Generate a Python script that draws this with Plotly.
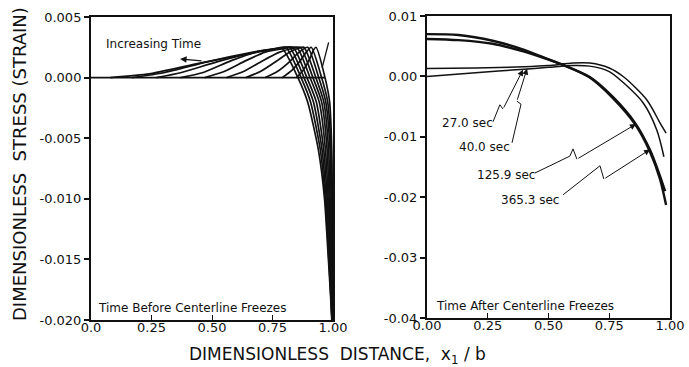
import plotly.graph_objects as go

# ---------------- Left panel: time before centerline freezes ----------------
# zero-stress baseline (still-liquid core)
base_x = [0.0, 0.967]
base_y = [0.0, 0.0]

# Stress profiles from the freezing front to the surface, earliest -> latest
before_x = [
    [0.85, 0.88, 0.905, 0.92, 0.93, 0.967, 0.986, 0.995, 0.997, 0.998, 0.999, 1.0],
    [0.79, 0.83, 0.865, 0.89, 0.91, 0.953, 0.978, 0.992, 0.995, 0.997, 0.998, 0.999],
    [0.72, 0.77, 0.82, 0.86, 0.895, 0.941, 0.970, 0.988, 0.992, 0.995, 0.997, 0.999],
    [0.64, 0.70, 0.77, 0.82, 0.855, 0.88, 0.929, 0.962, 0.982, 0.988, 0.993, 0.996, 0.998],
    [0.56, 0.63, 0.71, 0.78, 0.83, 0.865, 0.917, 0.953, 0.976, 0.984, 0.991, 0.995, 0.998],
    [0.47, 0.55, 0.64, 0.72, 0.80, 0.85, 0.905, 0.943, 0.969, 0.980, 0.988, 0.994, 0.997],
    [0.37, 0.46, 0.58, 0.70, 0.78, 0.835, 0.892, 0.931, 0.962, 0.976, 0.985, 0.993, 0.997],
    [0.27, 0.37, 0.52, 0.68, 0.77, 0.82, 0.88, 0.919, 0.955, 0.972, 0.983, 0.992, 0.996],
    [0.17, 0.30, 0.48, 0.67, 0.76, 0.805, 0.868, 0.907, 0.948, 0.968, 0.980, 0.991, 0.996],
    [0.08, 0.24, 0.45, 0.66, 0.75, 0.79, 0.855, 0.895, 0.940, 0.965, 0.978, 0.990, 0.995],
]
before_y = [
    [0, 0.0007, 0.0016, 0.0023, 0.0025, 0.0, -0.002, -0.006, -0.010, -0.014, -0.018, -0.020],
    [0, 0.0006, 0.0014, 0.0021, 0.0025, 0.0, -0.002, -0.006, -0.010, -0.014, -0.018, -0.020],
    [0, 0.0005, 0.0013, 0.0021, 0.0025, 0.0, -0.002, -0.006, -0.010, -0.014, -0.018, -0.020],
    [0, 0.0005, 0.0014, 0.0021, 0.0024, 0.0025, 0.0, -0.002, -0.006, -0.010, -0.014, -0.018, -0.020],
    [0, 0.0005, 0.0014, 0.0021, 0.0024, 0.0025, 0.0, -0.002, -0.006, -0.010, -0.014, -0.018, -0.020],
    [0, 0.0005, 0.0014, 0.0021, 0.0024, 0.0025, 0.0, -0.002, -0.006, -0.010, -0.014, -0.018, -0.020],
    [0, 0.0004, 0.0014, 0.0022, 0.0024, 0.0025, 0.0, -0.002, -0.006, -0.010, -0.014, -0.018, -0.020],
    [0, 0.0004, 0.0013, 0.0021, 0.0024, 0.0025, 0.0, -0.002, -0.006, -0.010, -0.014, -0.018, -0.020],
    [0, 0.0004, 0.0013, 0.0021, 0.0024, 0.0025, 0.0, -0.002, -0.006, -0.010, -0.014, -0.018, -0.020],
    [0, 0.0003, 0.0012, 0.0020, 0.0023, 0.0024, 0.0, -0.002, -0.006, -0.010, -0.014, -0.018, -0.020],
]
# short early-time segment near the surface
early_x = [0.955, 0.982]
early_y = [0.0008, 0.0029]

# ---------------- Right panel: time after centerline freezes ----------------
after_labels = ["27.0 sec", "40.0 sec", "125.9 sec", "365.3 sec"]
after_x = [
    [0, 0.2, 0.4, 0.5, 0.6, 0.67, 0.75, 0.81, 0.89, 0.946, 0.975],
    [0, 0.2, 0.4, 0.5, 0.6, 0.67, 0.75, 0.81, 0.905, 0.959, 0.984],
    [0, 0.13, 0.27, 0.40, 0.47, 0.56, 0.67, 0.765, 0.856, 0.918, 0.959, 0.98],
    [0, 0.13, 0.27, 0.40, 0.47, 0.56, 0.67, 0.765, 0.856, 0.918, 0.959, 0.984],
]
after_y = [
    [0.0000, 0.0006, 0.0012, 0.0015, 0.0018, 0.0017, 0.0008, -0.0011, -0.0044, -0.0089, -0.0133],
    [0.0013, 0.0014, 0.0016, 0.0018, 0.0022, 0.0022, 0.0014, -0.0001, -0.0039, -0.0077, -0.0094],
    [0.0062, 0.0060, 0.0054, 0.0041, 0.0032, 0.0019, -0.0001, -0.0034, -0.0077, -0.0122, -0.0165, -0.0190],
    [0.0070, 0.00685, 0.0059, 0.0044, 0.0033, 0.0019, -0.0002, -0.0036, -0.0079, -0.0125, -0.0170, -0.0213],
]
after_width = [1.5, 1.5, 2.4, 2.4]

# tick labels
left_xticks = ["0.0", "0.25", "0.50", "0.75", "1.00"]
right_xticks = ["0.00", "0.25", "0.50", "0.75", "1.00"]
xtick_vals = [0, 0.25, 0.5, 0.75, 1.0]
left_ytick_vals = [0.005, 0.0, -0.005, -0.010, -0.015, -0.020]
left_yticks = ["0.005", "0.000", "-0.005", "-0.010", "-0.015", "-0.020"]
right_ytick_vals = [0.01, 0.0, -0.01, -0.02, -0.03, -0.04]
right_yticks = ["0.01", "0.00", "-0.01", "-0.02", "-0.03", "-0.04"]

INK = "#111111"
FONT = "DejaVu Sans"

fig = go.Figure()

fig.add_trace(go.Scatter(x=base_x, y=base_y, mode="lines", xaxis="x", yaxis="y",
                         line=dict(color=INK, width=1.6), showlegend=False, hoverinfo="skip"))
for xs, ys in zip(before_x, before_y):
    fig.add_trace(go.Scatter(x=xs, y=ys, mode="lines", xaxis="x", yaxis="y",
                             line=dict(color=INK, width=1.7, shape="spline", smoothing=0.6),
                             showlegend=False, hoverinfo="skip"))
fig.add_trace(go.Scatter(x=early_x, y=early_y, mode="lines", xaxis="x", yaxis="y",
                         line=dict(color=INK, width=1.3), showlegend=False, hoverinfo="skip"))

for xs, ys, w, name in zip(after_x, after_y, after_width, after_labels):
    fig.add_trace(go.Scatter(x=xs, y=ys, mode="lines", xaxis="x2", yaxis="y2", name=name,
                             line=dict(color=INK, width=w, shape="spline", smoothing=0.8),
                             showlegend=False, hoverinfo="skip"))

axis_common = dict(showgrid=False, zeroline=False, showline=True, linecolor=INK,
                   linewidth=2, mirror=True, tickcolor=INK, automargin=False,
                   tickfont=dict(family=FONT, size=13, color=INK))

fig.update_layout(
    template="none",
    width=689, height=367,
    margin=dict(l=0, r=0, t=0, b=0, autoexpand=False),
    paper_bgcolor="white", plot_bgcolor="white",
    showlegend=False,
    xaxis=dict(domain=[0.1321, 0.4833], range=[0, 1], tickvals=xtick_vals,
               ticktext=left_xticks, ticks="inside", ticklen=5, tickwidth=1.2,
               ticklabelstandoff=-6, anchor="y", **axis_common),
    yaxis=dict(domain=[0.128, 0.9537], range=[-0.020, 0.005], tickvals=left_ytick_vals,
               ticktext=left_yticks, ticks="outside", ticklen=5, tickwidth=1.5,
               anchor="x", **axis_common),
    xaxis2=dict(domain=[0.6197, 0.9724], range=[0, 1], tickvals=xtick_vals,
                ticktext=right_xticks, ticks="inside", ticklen=5, tickwidth=1.2,
                ticklabelstandoff=-6, anchor="y2", **axis_common),
    yaxis2=dict(domain=[0.1335, 0.9564], range=[-0.04, 0.01], tickvals=right_ytick_vals,
                ticktext=right_yticks, ticks="outside", ticklen=5, tickwidth=1.5,
                anchor="x2", **axis_common),
)

# axis titles
fig.add_annotation(text="DIMENSIONLESS  STRESS (STRAIN)", xref="paper", yref="paper",
                   x=20 / 689, y=1 - 164 / 367, xanchor="center", yanchor="middle",
                   textangle=-90, showarrow=False,
                   font=dict(family=FONT, size=18, color=INK))
fig.add_annotation(text="DIMENSIONLESS  DISTANCE,  x<sub>1</sub> / b", xref="paper",
                   yref="paper", x=337 / 689, y=1 - 355 / 367, xanchor="center",
                   yanchor="middle", showarrow=False,
                   font=dict(family=FONT, size=17, color=INK))

small = dict(family=FONT, size=12, color=INK)

# left panel notes
fig.add_annotation(text="Increasing Time", xref="x", yref="y", x=0.055, y=0.0028,
                   xanchor="left", showarrow=False, font=small)
fig.add_annotation(x=0.368, y=0.00153, ax=0.463, ay=0.00137, xref="x", yref="y",
                   axref="x", ayref="y", showarrow=True, arrowhead=2, arrowsize=1,
                   arrowwidth=1.3, arrowcolor=INK, text="")
fig.add_annotation(text="Time Before Centerline Freezes", xref="x", yref="y",
                   x=0.02, y=-0.0190, xanchor="left", showarrow=False, font=small)

# right panel notes
fig.add_annotation(text="Time After Centerline Freezes", xref="x2", yref="y2",
                   x=0.03, y=-0.0380, xanchor="left", showarrow=False, font=small)

label_pos = [(0.165, -0.0077), (0.235, -0.0117), (0.325, -0.0163), (0.424, -0.0205)]
leaders = [
    [(0.272, -0.0075), (0.300, -0.0047), (0.313, -0.0054), (0.395, 0.0011)],
    [(0.350, -0.0110), (0.387, -0.0046), (0.370, -0.0041), (0.412, 0.0013)],
    [(0.444, -0.0160), (0.588, -0.0132), (0.601, -0.0120), (0.617, -0.0137), (0.860, -0.0079)],
    [(0.560, -0.0196), (0.712, -0.0148), (0.728, -0.0170), (0.918, -0.0121)],
]
for name, (lx, ly), pts in zip(after_labels, label_pos, leaders):
    fig.add_annotation(text=name, xref="x2", yref="y2", x=lx, y=ly, showarrow=False,
                       font=dict(family=FONT, size=12, color=INK))
    path = "M " + " L ".join(f"{px} {py}" for px, py in pts[:-1])
    fig.add_shape(type="path", path=path, xref="x2", yref="y2",
                  line=dict(color=INK, width=1))
    (ax_, ay_), (tx, ty) = pts[-2], pts[-1]
    fig.add_annotation(x=tx, y=ty, ax=ax_, ay=ay_, xref="x2", yref="y2", axref="x2",
                       ayref="y2", showarrow=True, arrowhead=2, arrowsize=1.2,
                       arrowwidth=1, arrowcolor=INK, text="")

fig.write_html("out.html")
